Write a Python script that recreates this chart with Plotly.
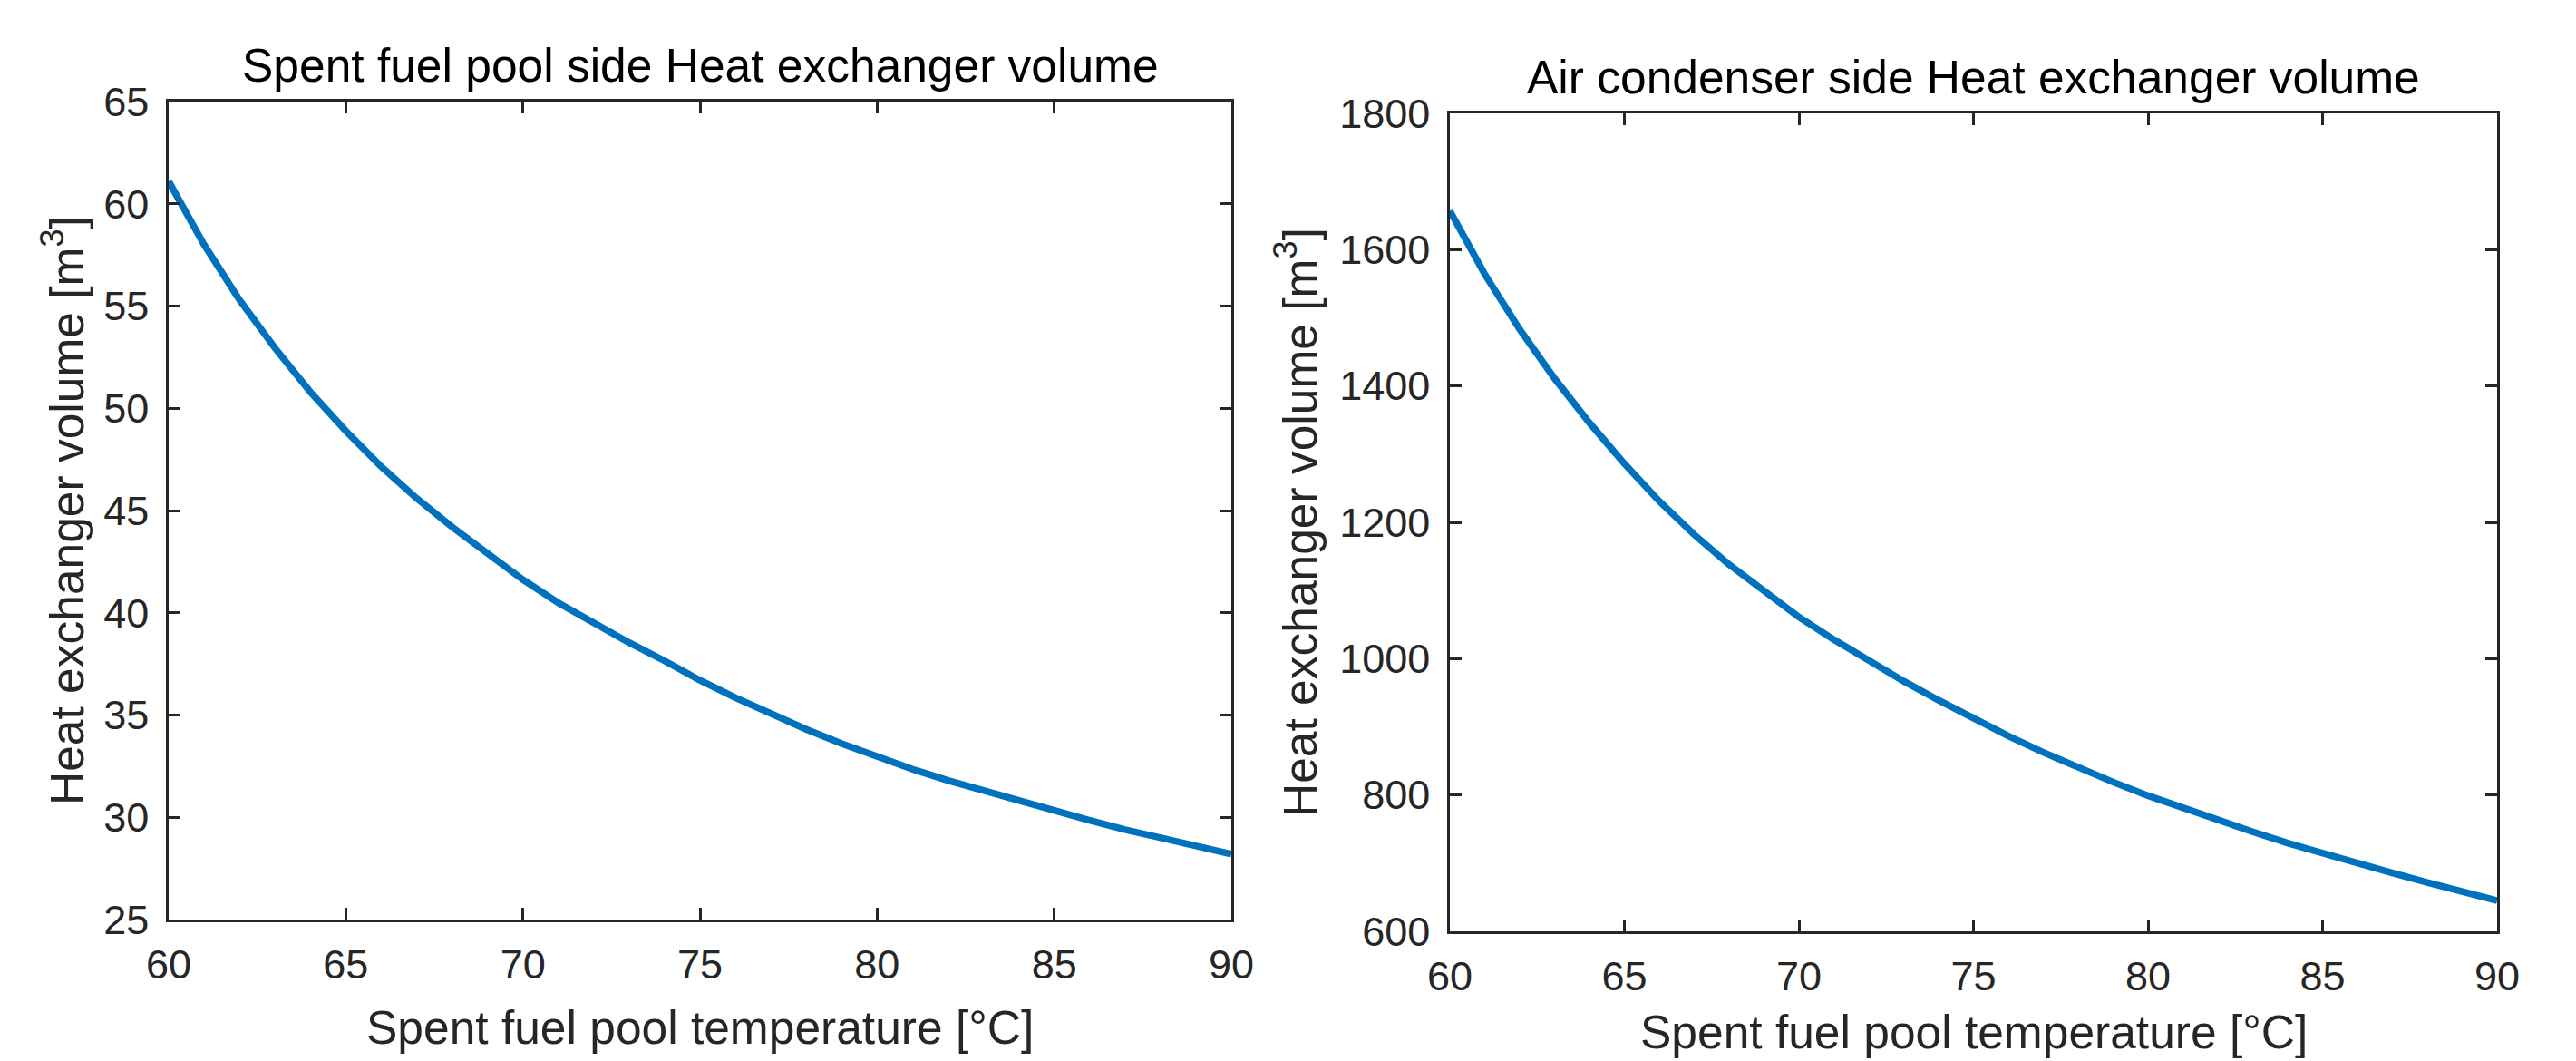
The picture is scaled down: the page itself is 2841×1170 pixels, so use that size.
import plotly.graph_objects as go

# Spent fuel pool temperature [°C]
temperature = list(range(60, 91))

# Spent fuel pool side heat exchanger volume [m^3]
pool_side_volume = [61.1, 58.0, 55.3, 52.95, 50.8, 48.9, 47.15, 45.6, 44.2, 42.88,
                    41.62, 40.49, 39.47, 38.54, 37.65, 36.7, 35.85, 35.05, 34.3, 33.6,
                    32.95, 32.35, 31.8, 31.3, 30.8, 30.3, 29.85, 29.4, 28.98, 28.58,
                    28.2]

# Air condenser side heat exchanger volume [m^3]
air_side_volume = [1657, 1564, 1483, 1411, 1346, 1286, 1231, 1182, 1138, 1098,
                   1061, 1028, 996.5, 967, 939, 912, 886.5, 862.5, 840, 819,
                   799, 780.5, 763, 746, 729.5, 714, 699.5, 685.5, 671.8, 658.3,
                   645]

x_ticks = [60, 65, 70, 75, 80, 85, 90]
left_y_ticks = [25, 30, 35, 40, 45, 50, 55, 60, 65]
right_y_ticks = [600, 800, 1000, 1200, 1400, 1600, 1800]

titles = ["Spent fuel pool side Heat exchanger volume",
          "Air condenser side Heat exchanger volume"]
x_label = "Spent fuel pool temperature [°C]"
y_label = "Heat exchanger volume [m<sup>3</sup>]"

# page body has an 8px default margin; the figure is sized to fill the rest
OFF = 8
W, H = 2841 - OFF, 1170 - OFF
FONT = "Liberation Sans, Arial, sans-serif"
AX = "#262626"
LINE = "#0072BD"

# panel boxes in screen pixels (left, right, top, bottom)
panels = [(186, 1358, 112, 1014), (1599, 2754, 125, 1027)]

def fx(px):
    return (px - OFF) / W

def fy(py):
    return 1 - (py - OFF) / H

fig = go.Figure()
fig.add_trace(go.Scatter(x=temperature, y=pool_side_volume, mode="lines",
                         line=dict(color=LINE, width=7.5), xaxis="x", yaxis="y",
                         showlegend=False))
fig.add_trace(go.Scatter(x=temperature, y=air_side_volume, mode="lines",
                         line=dict(color=LINE, width=7.5), xaxis="x2", yaxis="y2",
                         showlegend=False))

common = dict(showgrid=False, zeroline=False, showline=True, linecolor=AX, linewidth=2.5,
              mirror="ticks", ticks="inside", ticklen=13, tickwidth=2.5, tickcolor=AX,
              automargin=False,
              tickfont=dict(family=FONT, size=45, color=AX))
xcommon = dict(ticklabelstandoff=8, **common)
ycommon = dict(ticklabelstandoff=10, **common)

(l1, r1, t1, b1), (l2, r2, t2, b2) = panels
fig.update_layout(
    width=W, height=H,
    margin=dict(l=0, r=0, t=0, b=0, autoexpand=False),
    paper_bgcolor="white", plot_bgcolor="white",
    xaxis=dict(domain=[fx(l1), fx(r1)], range=[60, 90], tickvals=x_ticks,
               anchor="y", **xcommon),
    yaxis=dict(domain=[fy(b1), fy(t1)], range=[25, 65], tickvals=left_y_ticks,
               anchor="x", **ycommon),
    xaxis2=dict(domain=[fx(l2), fx(r2)], range=[60, 90], tickvals=x_ticks,
                anchor="y2", **xcommon),
    yaxis2=dict(domain=[fy(b2), fy(t2)], range=[600, 1800], tickvals=right_y_ticks,
                anchor="x2", **ycommon),
)

TS = 51.5
ann = []
# titles
ann.append(dict(text=titles[0], x=fx((l1 + r1) / 2), y=fy(72), xref="paper", yref="paper",
                showarrow=False, xanchor="center", yanchor="middle",
                font=dict(family=FONT, size=TS, color="black")))
ann.append(dict(text=titles[1], x=fx((l2 + r2) / 2), y=fy(85), xref="paper", yref="paper",
                showarrow=False, xanchor="center", yanchor="middle",
                font=dict(family=FONT, size=TS, color="black")))
# x labels
ann.append(dict(text=x_label, x=fx((l1 + r1) / 2), y=fy(1133), xref="paper", yref="paper",
                showarrow=False, xanchor="center", yanchor="middle",
                font=dict(family=FONT, size=TS, color=AX)))
ann.append(dict(text=x_label, x=fx((l2 + r2) / 2), y=fy(1138), xref="paper", yref="paper",
                showarrow=False, xanchor="center", yanchor="middle",
                font=dict(family=FONT, size=TS, color=AX)))
# y labels
ann.append(dict(text=y_label, x=fx(70), y=fy((t1 + b1) / 2), xref="paper", yref="paper",
                showarrow=False, xanchor="center", yanchor="middle", textangle=-90,
                font=dict(family=FONT, size=TS, color=AX)))
ann.append(dict(text=y_label, x=fx(1430), y=fy((t2 + b2) / 2), xref="paper", yref="paper",
                showarrow=False, xanchor="center", yanchor="middle", textangle=-90,
                font=dict(family=FONT, size=TS, color=AX)))
fig.update_layout(annotations=ann)

fig.write_html("out.html")
